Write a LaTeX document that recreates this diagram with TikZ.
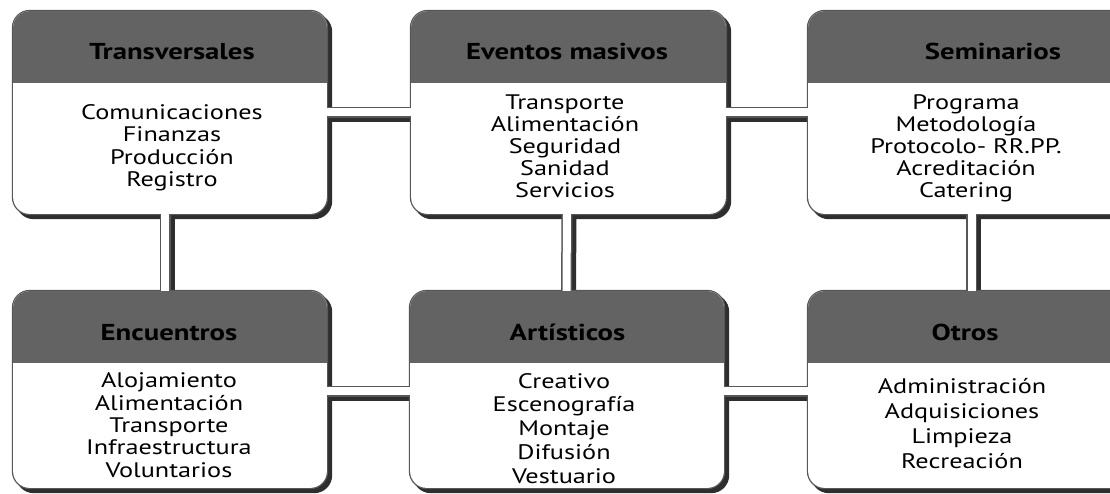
\documentclass[tikz,border=0pt]{standalone}
\usepackage{fontspec}
\setmainfont{PT Sans}[FakeStretch=1.25]
\begin{document}
\begin{tikzpicture}[x=1pt,y=-1pt,
  boxnode/.style={rectangle,inner sep=0pt,minimum height=#1},
  shadowc/.style={fill=black!82},
  borderc/.style={fill=black!66},
  headc/.style={fill=black!61},
  conshadow/.style={draw=black!82,line width=11pt},
  conborder/.style={draw=black!66,line width=11pt},
  confill/.style={draw=white,line width=8pt},
  headtext/.style={font=\fontsize{23}{26}\selectfont\bfseries,anchor=base,inner sep=0pt},
  bodytext/.style={font=\fontsize{21}{#1}\selectfont,anchor=base,align=center,inner sep=0pt}
]
\useasboundingbox (0,0) rectangle (1110,494);
\clip (0,0) rectangle (1110,494);

% box frames (named, invisible)
\node[boxnode=205pt,minimum width=316pt] (b1) at (170,112.5) {};
\node[boxnode=205pt,minimum width=317pt] (b2) at (568.5,112.5) {};
\node[boxnode=205pt,minimum width=328pt] (b3) at (971,112.5) {};
\node[boxnode=199pt,minimum width=316pt] (b4) at (170,389.5) {};
\node[boxnode=199pt,minimum width=316pt] (b5) at (567,389.5) {};
\node[boxnode=199pt,minimum width=328pt] (b6) at (971,389.5) {};

% layer 1: shadows
\foreach \b in {b1,b2,b3,b4,b5,b6}
  \fill[shadowc,rounded corners=18pt] ([shift={(4,4)}]\b.north west) rectangle ([shift={(4,4)}]\b.south east);
\draw[conshadow] ([shift={(0,4)}]b1.center) -- ([shift={(0,4)}]b2.center) -- ([shift={(0,4)}]b3.center);
\draw[conshadow] ([shift={(0,5.5)}]b4.center) -- ([shift={(0,5.5)}]b5.center) -- ([shift={(0,5.5)}]b6.center);
\draw[conshadow] ([shift={(-1,0)}]b1.center) -- ([shift={(-1,0)}]b4.center);
\draw[conshadow] ([shift={(3,0)}]b2.center) -- ([shift={(3,0)}]b5.center);
\draw[conshadow] ([shift={(4.5,0)}]b3.center) -- ([shift={(4.5,0)}]b6.center);

% layer 2: borders
\foreach \b in {b1,b2,b3,b4,b5,b6}
  \fill[borderc,rounded corners=18pt] (\b.north west) rectangle (\b.south east);
\draw[conborder] (b1.center) -- (b2.center) -- (b3.center);
\draw[conborder] ([shift={(0,1.5)}]b4.center) -- ([shift={(0,1.5)}]b5.center) -- ([shift={(0,1.5)}]b6.center);
\draw[conborder] ([shift={(-5,0)}]b1.center) -- ([shift={(-5,0)}]b4.center);
\draw[conborder] ([shift={(-1,0)}]b2.center) -- ([shift={(-1,0)}]b5.center);
\draw[conborder] ([shift={(0.5,0)}]b3.center) -- ([shift={(0.5,0)}]b6.center);

% layer 3: white fills
\foreach \b in {b1,b2,b3,b4,b5,b6}
  \fill[white,rounded corners=16.7pt] ([shift={(1.3,1.3)}]\b.north west) rectangle ([shift={(-1.3,-1.3)}]\b.south east);
\draw[confill] (b1.center) -- (b2.center) -- (b3.center);
\draw[confill] ([shift={(0,1.5)}]b4.center) -- ([shift={(0,1.5)}]b5.center) -- ([shift={(0,1.5)}]b6.center);
\draw[confill] ([shift={(-5,0)}]b1.center) -- ([shift={(-5,0)}]b4.center);
\draw[confill] ([shift={(-1,0)}]b2.center) -- ([shift={(-1,0)}]b5.center);
\draw[confill] ([shift={(0.5,0)}]b3.center) -- ([shift={(0.5,0)}]b6.center);

% layer 4: headers
\foreach \b in {b1,b2,b3,b4,b5,b6}{
  \begin{scope}
    \clip[rounded corners=16.7pt] ([shift={(1.3,1.3)}]\b.north west) rectangle ([shift={(-1.3,-1.3)}]\b.south east);
    \fill[headc] (\b.north west) rectangle ([shift={(0,73)}]\b.north east);
  \end{scope}
}

% texts
\node[headtext] (h1) at (172,60) {Transversales};
\node[headtext] (h2) at (567,60) {Eventos masivos};
\node[headtext] (h3) at (993,60) {Seminarios};
\node[headtext] (h4) at (169,340) {Encuentros};
\node[headtext] (h5) at (567.5,340) {Artísticos};
\node[headtext] (h6) at (965,340) {Otros};

\node[bodytext=22.6] (t1) at (172,187) {Comunicaciones\\Finanzas\\Producción\\Registro};
\node[bodytext=22] (t2) at (565,198) {Transporte\\Alimentación\\Seguridad\\Sanidad\\Servicios};
\node[bodytext=22] (t3) at (966,198) {Programa\\Metodología\\Protocolo- RR.PP.\\Acreditación\\Catering};
\node[bodytext=22.3] (t4) at (169,477) {Alojamiento\\Alimentación\\Transporte\\Infraestructura\\Voluntarios};
\node[bodytext=23.75] (t5) at (564,483) {Creativo\\Escenografía\\Montaje\\Difusión\\Vestuario};
\node[bodytext=25] (t6) at (962,468) {Administración\\Adquisiciones\\Limpieza\\Recreación};
\end{tikzpicture}
\end{document}
